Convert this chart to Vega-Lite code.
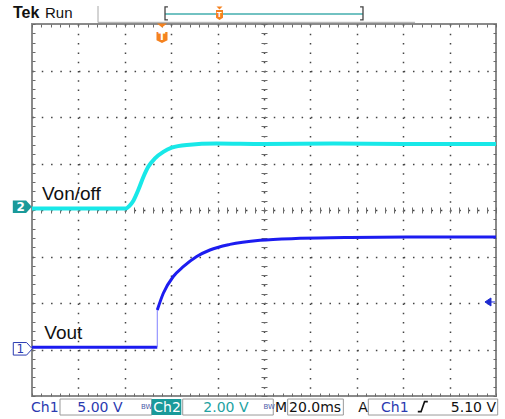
{
  "$schema": "https://vega.github.io/schema/vega-lite/v6.json",
  "width": 464,
  "height": 372,
  "autosize": {"type": "none"},
  "padding": {"left": 32, "top": 24, "right": 9, "bottom": 23},
  "background": "white",
  "config": {"view": {"stroke": "#8a8a8a", "strokeWidth": 2}},
  "resolve": {"axis": {"x": "independent", "y": "independent"}},
  "datasets": {
    "ch2": [
      {"t": 0, "v": 0.03}, {"t": 40.4, "v": 0.03}, {"t": 42.0, "v": 0.09}, {"t": 43.7, "v": 0.2},
      {"t": 45.8, "v": 0.43}, {"t": 48.0, "v": 0.71}, {"t": 50.1, "v": 0.93}, {"t": 53.0, "v": 1.11},
      {"t": 56.6, "v": 1.25}, {"t": 60.2, "v": 1.34}, {"t": 66.7, "v": 1.40}, {"t": 79.6, "v": 1.43},
      {"t": 100, "v": 1.42}, {"t": 130, "v": 1.43}, {"t": 160, "v": 1.42}, {"t": 200, "v": 1.42}
    ],
    "ch1": [
      {"seg": "base", "t": 0, "v": -2.95}, {"seg": "base", "t": 54.0, "v": -2.95},
      {"seg": "edge", "t": 54.0, "v": -2.95}, {"seg": "edge", "t": 54.0, "v": -2.15},
      {"seg": "rise", "t": 54.0, "v": -2.15}, {"seg": "rise", "t": 56.6, "v": -1.79},
      {"seg": "rise", "t": 60.9, "v": -1.43}, {"seg": "rise", "t": 65.2, "v": -1.22},
      {"seg": "rise", "t": 71.0, "v": -1.0}, {"seg": "rise", "t": 76.7, "v": -0.86},
      {"seg": "rise", "t": 85.3, "v": -0.74}, {"seg": "rise", "t": 98.3, "v": -0.65},
      {"seg": "rise", "t": 115.5, "v": -0.61}, {"seg": "rise", "t": 137.1, "v": -0.59},
      {"seg": "rise", "t": 170, "v": -0.58}, {"seg": "rise", "t": 200, "v": -0.58}
    ],
    "labels": [
      {"role": "tek", "t": -8.19, "v": 4.12, "text": "Tek"},
      {"role": "run", "t": 5.6, "v": 4.12, "text": "Run"},
      {"role": "trace", "t": 4.31, "v": 0.215, "text": "Von/off"},
      {"role": "trace", "t": 5.3, "v": -2.78, "text": "Vout"},
      {"role": "blue", "t": -0.43, "v": -4.338, "text": "Ch1"},
      {"role": "blue", "t": 19.53, "v": -4.338, "text": "5.00 V"},
      {"role": "white", "t": 52.28, "v": -4.338, "text": "Ch2"},
      {"role": "teal", "t": 73.84, "v": -4.338, "text": "2.00 V"},
      {"role": "black", "t": 104.74, "v": -4.338, "text": "M"},
      {"role": "black", "t": 110.78, "v": -4.338, "text": "20.0ms"},
      {"role": "black", "t": 140.6, "v": -4.338, "text": "A"},
      {"role": "blue", "t": 150.43, "v": -4.338, "text": "Ch1"},
      {"role": "blackR", "t": 200.0, "v": -4.338, "text": "5.10 V"},
      {"role": "bw", "t": 47.0, "v": -4.29, "text": "BW"},
      {"role": "bw", "t": 99.8, "v": -4.29, "text": "BW"},
      {"role": "ref2", "t": -4.83, "v": 0.065, "text": "2"},
      {"role": "ref1", "t": -5.04, "v": -2.985, "text": "1"},
      {"role": "trigT", "t": 56.03, "v": 3.72, "text": "T"},
      {"role": "trigTs", "t": 80.82, "v": 4.2, "text": "T"}
    ],
    "markers": [
      {"role": "ref2", "t": -4.18, "v": 0.068},
      {"role": "ref1", "t": -3.97, "v": -2.985},
      {"role": "triglevel", "t": 197.4, "v": -1.978},
      {"role": "trigtri", "t": 56.03, "v": 3.968},
      {"role": "trigshield", "t": 56.03, "v": 3.71},
      {"role": "trigtri_s", "t": 80.82, "v": 4.344},
      {"role": "trigshield_s", "t": 80.82, "v": 4.194},
      {"role": "bracketL", "t": 57.33, "v": 4.23},
      {"role": "bracketR", "t": 142.67, "v": 4.23},
      {"role": "edge", "t": 168.45, "v": -4.229}
    ],
    "rules": [
      {"role": "window", "t": 57.33, "t2": 142.67, "v": 4.215, "v2": 4.215},
      {"role": "frame", "t": 28.45, "t2": 28.45, "v": 4.032, "v2": 4.387},
      {"role": "frame", "t": 28.45, "t2": 165.1, "v": 4.036, "v2": 4.036}
    ],
    "boxes": [
      {"role": "field", "t": 12.07, "t2": 51.59, "v": -4.065, "v2": -4.409},
      {"role": "tab", "t": 51.59, "t2": 64.35, "v": -4.065, "v2": -4.409},
      {"role": "field", "t": 64.96, "t2": 104.0, "v": -4.065, "v2": -4.409},
      {"role": "field", "t": 110.2, "t2": 134.2, "v": -4.065, "v2": -4.409},
      {"role": "field", "t": 144.96, "t2": 200.73, "v": -4.065, "v2": -4.409}
    ]
  },
  "layer": [
    {
      "data": {"name": "ch2"},
      "mark": {"type": "line", "color": "#18e8e8", "strokeWidth": 4, "interpolate": "monotone"},
      "encoding": {
        "x": {"field": "t", "type": "quantitative", "scale": {"domain": [0, 200], "nice": false, "zero": false},
          "axis": {"orient": "bottom", "values": [20, 40, 60, 80, 100, 120, 140, 160, 180], "grid": true, "gridDash": [1.5, 7.8], "gridColor": "#444444", "gridWidth": 1.5, "ticks": false, "labels": false, "domain": false, "title": null}},
        "y": {"field": "v", "type": "quantitative", "scale": {"domain": [-4, 4], "nice": false, "zero": false},
          "axis": {"orient": "left", "values": [-3, -2, -1, 0, 1, 2, 3], "grid": true, "gridDash": [1.5, 7.78], "gridColor": "#444444", "gridWidth": 1.5, "ticks": false, "labels": false, "domain": false, "title": null}}
      }
    },
    {
      "data": {"name": "ch1"},
      "transform": [{"filter": "datum.seg === 'base'"}],
      "mark": {"type": "line", "color": "#1c1cf0", "strokeWidth": 3},
      "encoding": {
        "x": {"field": "t", "type": "quantitative", "scale": {"domain": [0, 200], "nice": false, "zero": false},
          "axis": {"orient": "bottom", "offset": -372, "values": [0,4,8,12,16,20,24,28,32,36,40,44,48,52,56,60,64,68,72,76,80,84,88,92,96,100,104,108,112,116,120,124,128,132,136,140,144,148,152,156,160,164,168,172,176,180,184,188,192,196,200], "grid": false, "ticks": true, "tickSize": 3, "tickColor": "#6a6a6a", "labels": false, "domain": false, "title": null}},
        "y": {"field": "v", "type": "quantitative", "scale": {"domain": [-4, 4], "nice": false, "zero": false},
          "axis": {"orient": "right", "offset": -464, "values": [-4,-3.8,-3.6,-3.4,-3.2,-3,-2.8,-2.6,-2.4,-2.2,-2,-1.8,-1.6,-1.4,-1.2,-1,-0.8,-0.6,-0.4,-0.2,0,0.2,0.4,0.6,0.8,1,1.2,1.4,1.6,1.8,2,2.2,2.4,2.6,2.8,3,3.2,3.4,3.6,3.8,4], "grid": false, "ticks": true, "tickSize": 3, "tickColor": "#6a6a6a", "labels": false, "domain": false, "title": null}}
      }
    },
    {
      "data": {"name": "ch1"},
      "transform": [{"filter": "datum.seg === 'edge'"}],
      "mark": {"type": "line", "color": "#8080ff", "strokeWidth": 1},
      "encoding": {
        "x": {"field": "t", "type": "quantitative", "scale": {"domain": [0, 200], "nice": false, "zero": false},
          "axis": {"orient": "top", "offset": -372, "values": [0,4,8,12,16,20,24,28,32,36,40,44,48,52,56,60,64,68,72,76,80,84,88,92,96,100,104,108,112,116,120,124,128,132,136,140,144,148,152,156,160,164,168,172,176,180,184,188,192,196,200], "grid": false, "ticks": true, "tickSize": 3, "tickColor": "#6a6a6a", "labels": false, "domain": false, "title": null}},
        "y": {"field": "v", "type": "quantitative", "scale": {"domain": [-4, 4], "nice": false, "zero": false},
          "axis": {"orient": "left", "offset": -464, "values": [-4,-3.8,-3.6,-3.4,-3.2,-3,-2.8,-2.6,-2.4,-2.2,-2,-1.8,-1.6,-1.4,-1.2,-1,-0.8,-0.6,-0.4,-0.2,0,0.2,0.4,0.6,0.8,1,1.2,1.4,1.6,1.8,2,2.2,2.4,2.6,2.8,3,3.2,3.4,3.6,3.8,4], "grid": false, "ticks": true, "tickSize": 3, "tickColor": "#6a6a6a", "labels": false, "domain": false, "title": null}}
      }
    },
    {
      "data": {"name": "ch1"},
      "transform": [{"filter": "datum.seg === 'rise'"}],
      "mark": {"type": "line", "color": "#1c1cf0", "strokeWidth": 3, "interpolate": "monotone"},
      "encoding": {
        "x": {"field": "t", "type": "quantitative", "scale": {"domain": [0, 200], "nice": false, "zero": false},
          "axis": {"orient": "bottom", "offset": -189, "values": [0,4,8,12,16,20,24,28,32,36,40,44,48,52,56,60,64,68,72,76,80,84,88,92,96,100,104,108,112,116,120,124,128,132,136,140,144,148,152,156,160,164,168,172,176,180,184,188,192,196,200], "grid": false, "ticks": true, "tickSize": 6, "tickColor": "#6a6a6a", "labels": false, "domain": false, "title": null}},
        "y": {"field": "v", "type": "quantitative", "scale": {"domain": [-4, 4], "nice": false, "zero": false},
          "axis": {"orient": "left", "offset": -235, "values": [-4,-3.8,-3.6,-3.4,-3.2,-3,-2.8,-2.6,-2.4,-2.2,-2,-1.8,-1.6,-1.4,-1.2,-1,-0.8,-0.6,-0.4,-0.2,0,0.2,0.4,0.6,0.8,1,1.2,1.4,1.6,1.8,2,2.2,2.4,2.6,2.8,3,3.2,3.4,3.6,3.8,4], "grid": false, "ticks": true, "tickSize": 6, "tickColor": "#6a6a6a", "labels": false, "domain": false, "title": null}}
      }
    },
    {
      "data": {"name": "boxes"},
      "transform": [{"filter": "datum.role === 'field'"}],
      "mark": {"type": "rect", "fill": "white", "stroke": "#9a9a9a", "strokeWidth": 1},
      "encoding": {
        "x": {"field": "t", "type": "quantitative", "axis": null}, "x2": {"field": "t2"},
        "y": {"field": "v", "type": "quantitative", "axis": null}, "y2": {"field": "v2"}
      }
    },
    {
      "data": {"name": "boxes"},
      "transform": [{"filter": "datum.role === 'tab'"}],
      "mark": {"type": "rect", "fill": "#1a9a9a"},
      "encoding": {
        "x": {"field": "t", "type": "quantitative", "axis": null}, "x2": {"field": "t2"},
        "y": {"field": "v", "type": "quantitative", "axis": null}, "y2": {"field": "v2"}
      }
    },
    {
      "data": {"name": "rules"},
      "transform": [{"filter": "datum.role === 'window'"}],
      "mark": {"type": "rule", "color": "#72c2c2", "strokeWidth": 2},
      "encoding": {
        "x": {"field": "t", "type": "quantitative", "axis": null}, "x2": {"field": "t2"},
        "y": {"field": "v", "type": "quantitative", "axis": null}, "y2": {"field": "v2"}
      }
    },
    {
      "data": {"name": "rules"},
      "transform": [{"filter": "datum.role === 'frame'"}],
      "mark": {"type": "rule", "color": "#a8a8a8", "strokeWidth": 1},
      "encoding": {
        "x": {"field": "t", "type": "quantitative", "axis": null}, "x2": {"field": "t2"},
        "y": {"field": "v", "type": "quantitative", "axis": null}, "y2": {"field": "v2"}
      }
    },
    {
      "data": {"name": "markers"},
      "transform": [{"filter": "datum.role === 'ref2'"}],
      "mark": {"type": "point", "shape": "M-1,-0.66L0.4,-0.66L1,0L0.4,0.66L-1,0.66Z", "size": 361, "filled": true, "fill": "#1a9a9a", "opacity": 1, "strokeWidth": 0},
      "encoding": {"x": {"field": "t", "type": "quantitative", "axis": null}, "y": {"field": "v", "type": "quantitative", "axis": null}}
    },
    {
      "data": {"name": "markers"},
      "transform": [{"filter": "datum.role === 'ref1'"}],
      "mark": {"type": "point", "shape": "M-1,-0.66L0.4,-0.66L1,0L0.4,0.66L-1,0.66Z", "size": 361, "filled": false, "fill": "white", "fillOpacity": 1, "stroke": "#2a3ab0", "strokeWidth": 1, "opacity": 1},
      "encoding": {"x": {"field": "t", "type": "quantitative", "axis": null}, "y": {"field": "v", "type": "quantitative", "axis": null}}
    },
    {
      "data": {"name": "markers"},
      "transform": [{"filter": "datum.role === 'triglevel'"}],
      "mark": {"type": "point", "shape": "M-1,0L0.2,-0.8L0.2,0.8ZM0.2,0L1,0", "size": 100, "filled": true, "fill": "#1c2ad0", "stroke": "#1c2ad0", "strokeWidth": 1, "opacity": 1},
      "encoding": {"x": {"field": "t", "type": "quantitative", "axis": null}, "y": {"field": "v", "type": "quantitative", "axis": null}}
    },
    {
      "data": {"name": "markers"},
      "transform": [{"filter": "datum.role === 'trigtri'"}],
      "mark": {"type": "point", "shape": "M-1,-0.4L1,-0.4L0,0.4Z", "size": 100, "filled": true, "fill": "#f5821f", "opacity": 1, "strokeWidth": 0},
      "encoding": {"x": {"field": "t", "type": "quantitative", "axis": null}, "y": {"field": "v", "type": "quantitative", "axis": null}}
    },
    {
      "data": {"name": "markers"},
      "transform": [{"filter": "datum.role === 'trigshield'"}],
      "mark": {"type": "point", "shape": "M-1,-1L1,-1L1,0.5L0,1L-1,0.5Z", "size": 121, "filled": true, "fill": "#f5821f", "opacity": 1, "strokeWidth": 0},
      "encoding": {"x": {"field": "t", "type": "quantitative", "axis": null}, "y": {"field": "v", "type": "quantitative", "axis": null}}
    },
    {
      "data": {"name": "markers"},
      "transform": [{"filter": "datum.role === 'trigtri_s'"}],
      "mark": {"type": "point", "shape": "M-1,-0.5L1,-0.5L0,0.5Z", "size": 36, "filled": true, "fill": "#f5821f", "opacity": 1, "strokeWidth": 0},
      "encoding": {"x": {"field": "t", "type": "quantitative", "axis": null}, "y": {"field": "v", "type": "quantitative", "axis": null}}
    },
    {
      "data": {"name": "markers"},
      "transform": [{"filter": "datum.role === 'trigshield_s'"}],
      "mark": {"type": "point", "shape": "M-1,-1.4L1,-1.4L1,0.8L0,1.4L-1,0.8Z", "size": 49, "filled": true, "fill": "#f5821f", "opacity": 1, "strokeWidth": 0},
      "encoding": {"x": {"field": "t", "type": "quantitative", "axis": null}, "y": {"field": "v", "type": "quantitative", "axis": null}}
    },
    {
      "data": {"name": "markers"},
      "transform": [{"filter": "datum.role === 'bracketL'"}],
      "mark": {"type": "point", "shape": "M0.45,-1L0,-1L0,1L0.45,1", "size": 169, "filled": false, "stroke": "#444444", "strokeWidth": 1.3, "opacity": 1},
      "encoding": {"x": {"field": "t", "type": "quantitative", "axis": null}, "y": {"field": "v", "type": "quantitative", "axis": null}}
    },
    {
      "data": {"name": "markers"},
      "transform": [{"filter": "datum.role === 'bracketR'"}],
      "mark": {"type": "point", "shape": "M-0.45,-1L0,-1L0,1L-0.45,1", "size": 169, "filled": false, "stroke": "#444444", "strokeWidth": 1.3, "opacity": 1},
      "encoding": {"x": {"field": "t", "type": "quantitative", "axis": null}, "y": {"field": "v", "type": "quantitative", "axis": null}}
    },
    {
      "data": {"name": "markers"},
      "transform": [{"filter": "datum.role === 'edge'"}],
      "mark": {"type": "point", "shape": "M-1,1L-0.35,1L0.35,-1L1,-1", "size": 100, "filled": false, "stroke": "#111111", "strokeWidth": 1.6, "opacity": 1},
      "encoding": {"x": {"field": "t", "type": "quantitative", "axis": null}, "y": {"field": "v", "type": "quantitative", "axis": null}}
    },
    {
      "data": {"name": "labels"},
      "transform": [{"filter": "datum.role === 'tek'"}],
      "mark": {"type": "text", "font": "Liberation Sans", "fontSize": 16, "fontWeight": "bold", "color": "#111111", "align": "left", "baseline": "alphabetic"},
      "encoding": {"x": {"field": "t", "type": "quantitative", "axis": null}, "y": {"field": "v", "type": "quantitative", "axis": null}, "text": {"field": "text"}}
    },
    {
      "data": {"name": "labels"},
      "transform": [{"filter": "datum.role === 'run'"}],
      "mark": {"type": "text", "font": "Liberation Sans", "fontSize": 15, "color": "#111111", "align": "left", "baseline": "alphabetic"},
      "encoding": {"x": {"field": "t", "type": "quantitative", "axis": null}, "y": {"field": "v", "type": "quantitative", "axis": null}, "text": {"field": "text"}}
    },
    {
      "data": {"name": "labels"},
      "transform": [{"filter": "datum.role === 'trace'"}],
      "mark": {"type": "text", "font": "Liberation Sans", "fontSize": 19, "color": "#111111", "align": "left", "baseline": "alphabetic"},
      "encoding": {"x": {"field": "t", "type": "quantitative", "axis": null}, "y": {"field": "v", "type": "quantitative", "axis": null}, "text": {"field": "text"}}
    },
    {
      "data": {"name": "labels"},
      "transform": [{"filter": "datum.role === 'blue'"}],
      "mark": {"type": "text", "font": "DejaVu Sans", "fontSize": 14, "color": "#2a3ab0", "align": "left", "baseline": "alphabetic"},
      "encoding": {"x": {"field": "t", "type": "quantitative", "axis": null}, "y": {"field": "v", "type": "quantitative", "axis": null}, "text": {"field": "text"}}
    },
    {
      "data": {"name": "labels"},
      "transform": [{"filter": "datum.role === 'teal'"}],
      "mark": {"type": "text", "font": "DejaVu Sans", "fontSize": 14, "color": "#22a2a2", "align": "left", "baseline": "alphabetic"},
      "encoding": {"x": {"field": "t", "type": "quantitative", "axis": null}, "y": {"field": "v", "type": "quantitative", "axis": null}, "text": {"field": "text"}}
    },
    {
      "data": {"name": "labels"},
      "transform": [{"filter": "datum.role === 'black'"}],
      "mark": {"type": "text", "font": "DejaVu Sans", "fontSize": 14, "color": "#111111", "align": "left", "baseline": "alphabetic"},
      "encoding": {"x": {"field": "t", "type": "quantitative", "axis": null}, "y": {"field": "v", "type": "quantitative", "axis": null}, "text": {"field": "text"}}
    },
    {
      "data": {"name": "labels"},
      "transform": [{"filter": "datum.role === 'blackR'"}],
      "mark": {"type": "text", "font": "DejaVu Sans", "fontSize": 14, "color": "#111111", "align": "right", "baseline": "alphabetic"},
      "encoding": {"x": {"field": "t", "type": "quantitative", "axis": null}, "y": {"field": "v", "type": "quantitative", "axis": null}, "text": {"field": "text"}}
    },
    {
      "data": {"name": "labels"},
      "transform": [{"filter": "datum.role === 'white'"}],
      "mark": {"type": "text", "font": "DejaVu Sans", "fontSize": 14, "color": "#ffffff", "align": "left", "baseline": "alphabetic"},
      "encoding": {"x": {"field": "t", "type": "quantitative", "axis": null}, "y": {"field": "v", "type": "quantitative", "axis": null}, "text": {"field": "text"}}
    },
    {
      "data": {"name": "labels"},
      "transform": [{"filter": "datum.role === 'bw'"}],
      "mark": {"type": "text", "font": "DejaVu Sans", "fontSize": 7, "color": "#4a5aa8", "align": "left", "baseline": "alphabetic"},
      "encoding": {"x": {"field": "t", "type": "quantitative", "axis": null}, "y": {"field": "v", "type": "quantitative", "axis": null}, "text": {"field": "text"}}
    },
    {
      "data": {"name": "labels"},
      "transform": [{"filter": "datum.role === 'ref2'"}],
      "mark": {"type": "text", "font": "DejaVu Sans", "fontSize": 12, "fontWeight": "bold", "color": "#ffffff", "align": "center", "baseline": "middle"},
      "encoding": {"x": {"field": "t", "type": "quantitative", "axis": null}, "y": {"field": "v", "type": "quantitative", "axis": null}, "text": {"field": "text"}}
    },
    {
      "data": {"name": "labels"},
      "transform": [{"filter": "datum.role === 'ref1'"}],
      "mark": {"type": "text", "font": "DejaVu Sans", "fontSize": 12, "color": "#2a3ab0", "align": "center", "baseline": "middle"},
      "encoding": {"x": {"field": "t", "type": "quantitative", "axis": null}, "y": {"field": "v", "type": "quantitative", "axis": null}, "text": {"field": "text"}}
    },
    {
      "data": {"name": "labels"},
      "transform": [{"filter": "datum.role === 'trigT'"}],
      "mark": {"type": "text", "font": "DejaVu Sans", "fontSize": 10, "fontWeight": "bold", "color": "#ffffff", "align": "center", "baseline": "middle"},
      "encoding": {"x": {"field": "t", "type": "quantitative", "axis": null}, "y": {"field": "v", "type": "quantitative", "axis": null}, "text": {"field": "text"}}
    },
    {
      "data": {"name": "labels"},
      "transform": [{"filter": "datum.role === 'trigTs'"}],
      "mark": {"type": "text", "font": "DejaVu Sans", "fontSize": 7, "fontWeight": "bold", "color": "#ffffff", "align": "center", "baseline": "middle"},
      "encoding": {"x": {"field": "t", "type": "quantitative", "axis": null}, "y": {"field": "v", "type": "quantitative", "axis": null}, "text": {"field": "text"}}
    }
  ]
}
